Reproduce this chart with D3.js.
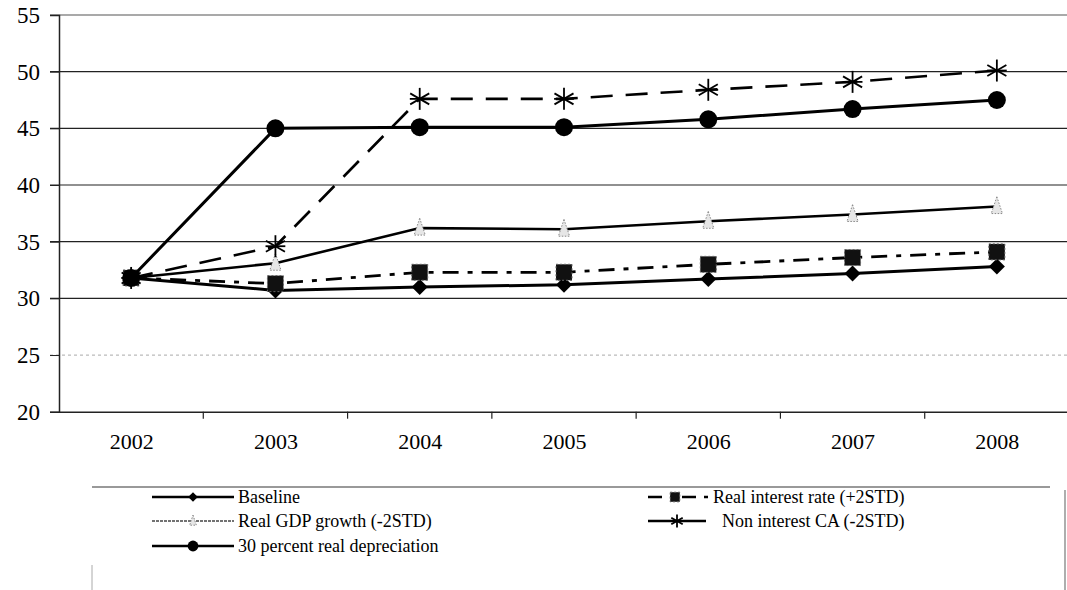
<!DOCTYPE html>
<html lang="en">
<head>
    <meta charset="UTF-8">
    <title>Debt scenarios</title>
    <script src="https://d3js.org/d3.v7.min.js"></script>
</head>
<body style="margin:0">
<script>
    const width = 1067;
    const height = 590;
    const serif = '"Liberation Serif"';

    const years = ["2002", "2003", "2004", "2005", "2006", "2007", "2008"];
    const yTicks = [20, 25, 30, 35, 40, 45, 50, 55];

    const baseline     = [31.8, 30.7, 31.0, 31.2, 31.7, 32.2, 32.8];
    const realInterest = [31.8, 31.3, 32.3, 32.3, 33.0, 33.6, 34.1];
    const realGdp      = [31.8, 33.1, 36.2, 36.1, 36.8, 37.4, 38.1];
    const nonInterest  = [31.8, 34.6, 47.6, 47.6, 48.4, 49.1, 50.1];
    const depreciation = [31.8, 45.0, 45.1, 45.1, 45.8, 46.7, 47.5];

    const seriesNames = ["Baseline", "Real interest rate (+2STD)", "Real GDP growth (-2STD)",
        "Non interest CA (-2STD)", "30 percent real depreciation"];

    const series = [
        {name: seriesNames[0], values: baseline, marker: "diamond", dash: null, width: 3, color: "#000"},
        {name: seriesNames[1], values: realInterest, marker: "square", dash: "16,9,5,9", width: 2.8, color: "#000"},
        {name: seriesNames[2], values: realGdp, marker: "triangle", dash: null, width: 2.6, color: "#000"},
        {name: seriesNames[3], values: nonInterest, marker: "star", dash: "22,13", width: 2.6, color: "#000"},
        {name: seriesNames[4], values: depreciation, marker: "circle", dash: null, width: 3, color: "#000"}
    ];

    const plotLeft = 59, plotRight = 1069, plotTop = 15, plotBottom = 411.7;

    const x = d3.scalePoint().domain(years).range([plotLeft, plotRight]).padding(0.5);
    const xBand = d3.scaleBand().domain(years).range([plotLeft, plotRight]);
    const y = d3.scaleLinear().domain([20, 55]).range([plotBottom, plotTop]);

    const svg = d3.select("body").append("svg")
            .attr("width", width).attr("height", height);

    // gridlines
    svg.append("g")
            .selectAll("line")
            .data(yTicks.filter(d => d > 20))
            .enter().append("line")
            .attr("x1", plotLeft - 9).attr("x2", width)
            .attr("y1", d => y(d)).attr("y2", d => y(d))
            .style("stroke", d => d == 25 ? "#bbb" : (d == 55 ? "#555" : "#222"))
            .style("stroke-dasharray", d => d == 25 ? "3,3" : null)
            .style("stroke-width", 1.2);

    // y axis
    const yAxis = svg.append("g")
            .attr("transform", `translate(${plotLeft},0)`)
            .call(d3.axisLeft(y).tickValues(yTicks).tickSize(9).tickPadding(10));
    yAxis.select(".domain").style("stroke", "#222").style("stroke-width", 1.5);
    yAxis.selectAll(".tick line").style("stroke", "#222");
    yAxis.selectAll("text").style("font-size", "23px").style("font-family", serif).style("fill", "#000");

    // x axis
    const xAxis = svg.append("g")
            .attr("transform", `translate(0,${plotBottom})`)
            .call(d3.axisBottom(x).tickSize(0).tickPadding(22));
    xAxis.select(".domain").style("stroke", "#222").style("stroke-width", 1.5);
    xAxis.selectAll("text").style("font-size", "22px").style("font-family", serif).style("fill", "#000");
    svg.append("g").selectAll("line")
            .data(years.slice(1))
            .enter().append("line")
            .attr("x1", d => xBand(d)).attr("x2", d => xBand(d))
            .attr("y1", plotBottom).attr("y2", plotBottom + 7)
            .style("stroke", "#222").style("stroke-width", 1.2);

    const line = d3.line().x((d, i) => x(years[i])).y(d => y(d));

    function drawMarker(g, type, size) {
        if (type == "diamond") {
            g.append("path").attr("d", `M0,${-size}L${size},0L0,${size}L${-size},0Z`).style("fill", "#000");
        } else if (type == "square") {
            g.append("rect").attr("x", -size).attr("y", -size).attr("width", size * 2).attr("height", size * 2)
                    .style("fill", "#111").style("stroke", "#666").style("stroke-dasharray", "2,2");
        } else if (type == "triangle") {
            g.append("path").attr("d", `M0,${-size * 1.4}L${size * 0.8},${size}L${-size * 0.8},${size}Z`)
                    .style("fill", "#e6e6e6").style("stroke", "#888").style("stroke-dasharray", "1.5,1.5");
        } else if (type == "star") {
            [0, 60, 120].forEach(a => {
                const r = a * Math.PI / 180;
                g.append("line")
                        .attr("x1", -size * Math.sin(r)).attr("y1", -size * Math.cos(r))
                        .attr("x2", size * Math.sin(r)).attr("y2", size * Math.cos(r))
                        .style("stroke", "#000").style("stroke-width", 1.8);
            });
            g.append("line").attr("x1", -size * 0.9).attr("x2", size * 0.9)
                    .style("stroke", "#000").style("stroke-width", 1.8);
        } else if (type == "circle") {
            g.append("circle").attr("r", size).style("fill", "#000");
        }
    }

    const sizes = {diamond: 8, square: 8, triangle: 7, star: 11, circle: 9};

    series.forEach(s => {
        svg.append("path")
                .datum(s.values)
                .attr("d", line)
                .style("fill", "none")
                .style("stroke", s.color)
                .style("stroke-width", s.width)
                .style("stroke-dasharray", s.dash);
        s.values.forEach((v, i) => {
            const g = svg.append("g").attr("transform", `translate(${x(years[i])},${y(v)})`);
            drawMarker(g, s.marker, sizes[s.marker]);
        });
    });

    // legend
    svg.append("line").attr("x1", 92).attr("x2", 1050).attr("y1", 487).attr("y2", 487)
            .style("stroke", "#777").style("stroke-width", 1.5);
    svg.append("line").attr("x1", 1065).attr("x2", 1065).attr("y1", 490).attr("y2", 590)
            .style("stroke", "#777").style("stroke-width", 1.2);
    svg.append("line").attr("x1", 92).attr("x2", 92).attr("y1", 565).attr("y2", 590)
            .style("stroke", "#aaa").style("stroke-width", 1);

    const legendPos = [
        {x: 152, y: 497, tx: 238},
        {x: 648, y: 497, tx: 713},
        {x: 152, y: 521, tx: 238},
        {x: 648, y: 521, tx: 722},
        {x: 152, y: 546, tx: 238}
    ];
    const legendLen = [82, 64, 82, 58, 82];
    const legendDash = [null, "14,8,4,8", "3,1", null, null];

    series.forEach((s, i) => {
        const p = legendPos[i];
        const g = svg.append("g");
        g.append("line").attr("x1", p.x).attr("x2", p.x + legendLen[i])
                .attr("y1", p.y).attr("y2", p.y)
                .style("stroke", i == 2 ? "#444" : "#000")
                .style("stroke-width", i == 2 ? 1.5 : 2.5)
                .style("stroke-dasharray", legendDash[i]);
        const m = g.append("g").attr("transform", `translate(${p.x + (i == 1 ? 27 : legendLen[i] / 2)},${p.y})`);
        drawMarker(m, s.marker, sizes[s.marker] * 0.6);
        g.append("text").attr("x", p.tx).attr("y", p.y + 6)
                .style("font-family", serif)
                .style("font-size", "18px")
                .text(s.name);
    });
</script>
</body>
</html>
